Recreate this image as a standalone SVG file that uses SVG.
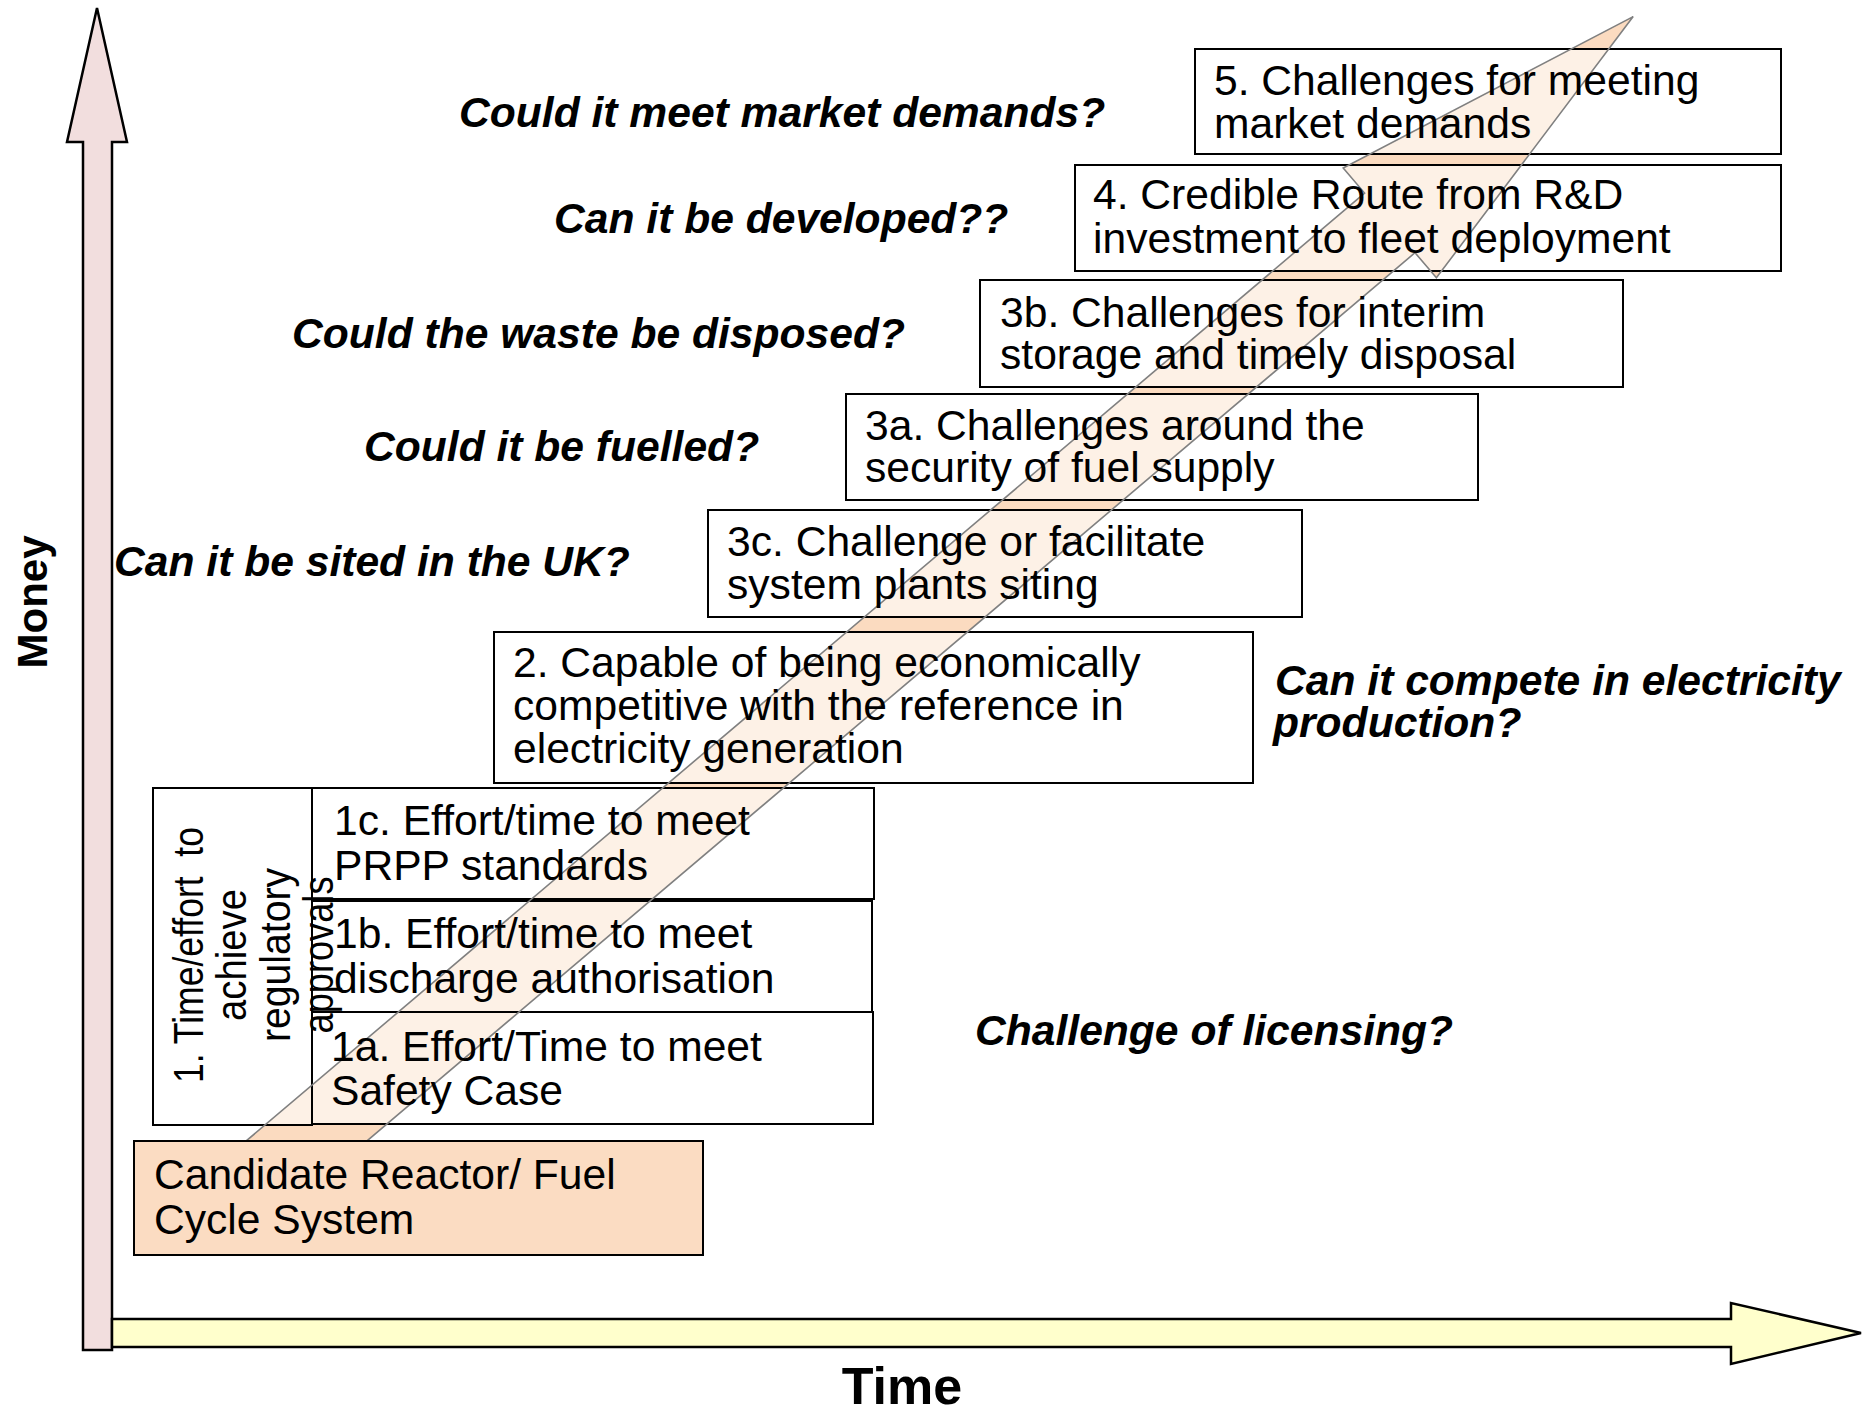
<svg xmlns="http://www.w3.org/2000/svg" width="1863" height="1409" viewBox="0 0 1863 1409">
<style>
.box{fill:#ffffff;fill-opacity:0.6;stroke:#000;stroke-width:2}
.t{font-family:"Liberation Sans",Arial,sans-serif;font-size:42.6px;fill:#000}
.q{font-family:"Liberation Sans",Arial,sans-serif;font-size:42.6px;font-weight:bold;font-style:italic;fill:#000}
.ax{font-family:"Liberation Sans",Arial,sans-serif;font-weight:bold;fill:#000}
</style>
<rect width="1863" height="1409" fill="#ffffff"/>
<g id="axes">
<polygon id="money-axis" points="83,1350 83,142 67,142 97,8 127,142 112,142 112,1350" fill="#F2DEDE" stroke="#000" stroke-width="2.5" stroke-linejoin="miter"/>
<polygon id="time-axis" points="112,1319 1731,1319 1731,1303 1861,1333 1731,1364 1731,1347 112,1347" fill="#FFFFCC" stroke="#000" stroke-width="2.5"/>
</g>
<g id="connectors">
<polygon id="progress-arrow-fill" points="232.3,1152.7 1364.6,193.1 1343.2,168.0 1633.2,16.6 1436.4,277.8 1415.0,252.7 282.7,1212.3" fill="#FBDBC0" stroke="none"/>
</g>
<g id="node-5"><rect class="box" x="1195" y="49" width="586" height="105"/></g>
<g id="node-4"><rect class="box" x="1075" y="165" width="706" height="106"/></g>
<g id="node-3b"><rect class="box" x="980" y="280" width="643" height="107"/></g>
<g id="node-3a"><rect class="box" x="846" y="394" width="632" height="106"/></g>
<g id="node-3c"><rect class="box" x="708" y="510" width="594" height="107"/></g>
<g id="node-2"><rect class="box" x="494" y="632" width="759" height="151"/></g>
<g id="node-1c"><rect class="box" x="312" y="788" width="562" height="111"/></g>
<g id="node-1b"><rect class="box" x="312" y="901" width="560" height="111"/></g>
<g id="node-1a"><rect class="box" x="312" y="1012" width="561" height="112"/></g>
<g id="node-1"><rect class="box" x="153" y="788" width="159" height="337"/></g>
<g id="progress-arrow-outline">
<polygon points="232.3,1152.7 1364.6,193.1 1343.2,168.0 1633.2,16.6 1436.4,277.8 1415.0,252.7 282.7,1212.3" fill="none" stroke="#808080" stroke-width="1.6" stroke-linejoin="miter"/>
</g>
<g id="node-candidate"><rect x="134" y="1141" width="569" height="114" fill="#FBDCC2" stroke="#000" stroke-width="2"/>
<text class="t"><tspan x="154" y="1189">Candidate Reactor/ Fuel</tspan><tspan x="154" y="1234">Cycle System</tspan></text></g>
<g id="labels">
<text class="t"><tspan x="1214" y="95">5. Challenges for meeting</tspan><tspan x="1214" y="138">market demands</tspan></text>
<text class="t"><tspan x="1093" y="209">4. Credible Route from R&amp;D</tspan><tspan x="1093" y="253">investment to fleet deployment</tspan></text>
<text class="t"><tspan x="1000" y="327">3b. Challenges for interim</tspan><tspan x="1000" y="369">storage and timely disposal</tspan></text>
<text class="t"><tspan x="865" y="440">3a. Challenges around the</tspan><tspan x="865" y="482">security of fuel supply</tspan></text>
<text class="t"><tspan x="727" y="556">3c. Challenge or facilitate</tspan><tspan x="727" y="599">system plants siting</tspan></text>
<text class="t"><tspan x="513" y="677">2. Capable of being economically</tspan><tspan x="513" y="720">competitive with the reference in</tspan><tspan x="513" y="763">electricity generation</tspan></text>
<text class="t"><tspan x="334" y="835">1c. Effort/time to meet</tspan><tspan x="334" y="880">PRPP standards</tspan></text>
<text class="t"><tspan x="334" y="948">1b. Effort/time to meet</tspan><tspan x="334" y="993">discharge authorisation</tspan></text>
<text class="t"><tspan x="331" y="1061">1a. Effort/Time to meet</tspan><tspan x="331" y="1105">Safety Case</tspan></text>
<text class="t" transform="translate(0,955) rotate(-90)" text-anchor="middle" xml:space="preserve"><tspan x="0" y="203" textLength="256" lengthAdjust="spacingAndGlyphs">1. Time/effort  to</tspan><tspan x="0" y="246" textLength="132" lengthAdjust="spacingAndGlyphs">achieve</tspan><tspan x="0" y="290" textLength="174" lengthAdjust="spacingAndGlyphs">regulatory</tspan><tspan x="0" y="333" textLength="157" lengthAdjust="spacingAndGlyphs">approvals</tspan></text>
<text class="q" x="459" y="127">Could it meet market demands?</text>
<text class="q" x="554" y="233">Can it be developed??</text>
<text class="q" x="292" y="348">Could the waste be disposed?</text>
<text class="q" x="364" y="461">Could it be fuelled?</text>
<text class="q" x="114" y="576">Can it be sited in the UK?</text>
<text class="q"><tspan x="1275" y="695">Can it compete in electricity</tspan><tspan x="1273" y="737">production?</tspan></text>
<text class="q" x="975" y="1045">Challenge of licensing?</text>
<text class="ax" font-size="52" x="902" y="1404" text-anchor="middle">Time</text>
<text class="ax" font-size="42" transform="translate(0,602) rotate(-90)" x="0" y="47" text-anchor="middle">Money</text>
</g>
</svg>
